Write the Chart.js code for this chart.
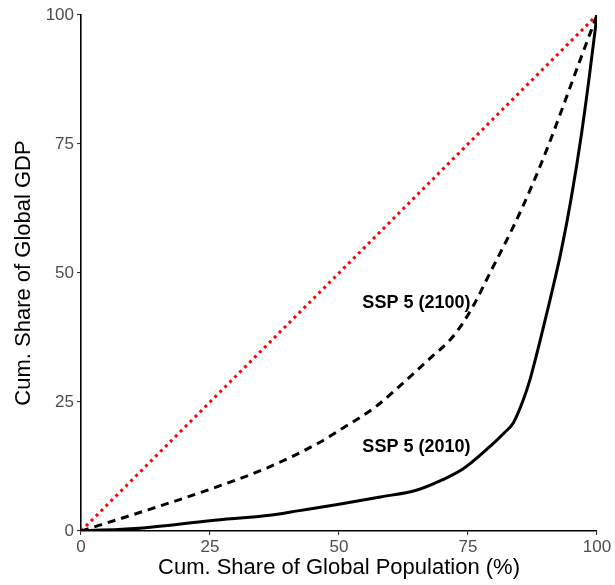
<!DOCTYPE html>
<html>
<head>
<meta charset="utf-8">
<script src="https://cdn.jsdelivr.net/npm/chart.js@4/dist/chart.umd.min.js"></script>
<style>
  html, body { margin: 0; padding: 0; background: #fff; }
  #wrap { width: 615px; height: 585px; }
</style>
</head>
<body>
<div id="wrap"><canvas id="lorenz"></canvas></div>
<script>
// Lorenz curves, cumulative shares in percent
const popShare2010 = [0, 12, 25, 37, 42, 50, 58, 65, 70, 74, 78.5, 82, 83.8, 85.7, 87, 89, 90.9, 93, 95, 97, 98.5, 100];
const gdpShare2010 = [0, 0.6, 2.0, 3.1, 3.9, 5.2, 6.6, 7.9, 9.9, 12, 15.7, 19, 21, 25.4, 29.3, 37, 44.8, 54, 64.5, 77, 88, 100];

const popShare2100 = [0, 13, 25.6, 36, 46.3, 50.2, 57, 63.1, 68, 71.5, 74, 76.5, 79, 83.7, 87, 90.3, 93.5, 96.7, 100];
const gdpShare2100 = [0, 4.1, 8.3, 12.2, 17.2, 19.6, 24, 29.3, 33.8, 37, 40.3, 44.5, 49.5, 58.8, 66, 74, 82.5, 91.2, 100];

const equalityX = [0, 100];
const equalityY = [0, 100];

const tickValues = [0, 25, 50, 75, 100];

const curveLabels = [
  { text: 'SSP 5 (2100)', x: 65, y: 44.2 },
  { text: 'SSP 5 (2010)', x: 65, y: 16.3 }
];

function toPoints(xs, ys) {
  return xs.map((x, i) => ({ x: x, y: ys[i] }));
}

// writes the curve labels at data coordinates
const labelPlugin = {
  id: 'curveLabels',
  afterDatasetsDraw(chart) {
    const ctx = chart.ctx;
    const sx = chart.scales.x, sy = chart.scales.y;
    ctx.save();
    ctx.font = 'bold 18px "Liberation Sans", Arial, sans-serif';
    ctx.fillStyle = '#000';
    ctx.textAlign = 'center';
    ctx.textBaseline = 'middle';
    curveLabels.forEach(l => {
      ctx.fillText(l.text, sx.getPixelForValue(l.x), sy.getPixelForValue(l.y));
    });
    ctx.restore();
  }
};

const axisCommon = {
  type: 'linear',
  min: 0,
  max: 100,
  afterBuildTicks: scale => { scale.ticks = tickValues.map(v => ({ value: v })); },
  grid: { display: true, drawOnChartArea: false, drawTicks: true, tickLength: 4, color: '#333', lineWidth: 1.1 },
  border: { display: true, color: '#000', width: 1.6 },
  ticks: { color: '#4d4d4d', font: { family: '"Liberation Sans", Arial, sans-serif', size: 17 }, padding: 2, maxRotation: 0 },
  title: { display: true, color: '#000', font: { family: '"Liberation Sans", Arial, sans-serif', size: 22 } }
};

new Chart(document.getElementById('lorenz').getContext('2d'), {
  type: 'line',
  data: {
    datasets: [
      {
        label: 'SSP 5 (2010)',
        data: toPoints(popShare2010, gdpShare2010),
        borderColor: '#000',
        borderWidth: 3,
        pointRadius: 0,
        cubicInterpolationMode: 'monotone'
      },
      {
        label: 'SSP 5 (2100)',
        data: toPoints(popShare2100, gdpShare2100),
        borderColor: '#000',
        borderWidth: 3,
        borderDash: [8, 6],
        pointRadius: 0,
        cubicInterpolationMode: 'monotone'
      },
      {
        label: 'Equality',
        data: toPoints(equalityX, equalityY),
        borderColor: '#ff0000',
        borderWidth: 3,
        borderDash: [3, 4],
        pointRadius: 0
      }
    ]
  },
  options: {
    responsive: true,
    maintainAspectRatio: false,
    animation: false,
    layout: { padding: { top: 15, right: 18, bottom: 4, left: 4 } },
    plugins: { legend: { display: false }, tooltip: { enabled: false } },
    scales: {
      x: Object.assign({}, axisCommon, {
        title: Object.assign({}, axisCommon.title, { text: 'Cum. Share of Global Population (%)', padding: { top: 0, bottom: 0 } }),
        afterFit: s => { s.height = 50; }
      }),
      y: Object.assign({}, axisCommon, {
        ticks: Object.assign({}, axisCommon.ticks, { padding: 3 }),
        title: Object.assign({}, axisCommon.title, { text: 'Cum. Share of Global GDP', padding: { top: 7, bottom: 0 } }),
        afterFit: s => { s.width = 77; }
      })
    }
  },
  plugins: [labelPlugin]
});
</script>
</body>
</html>
